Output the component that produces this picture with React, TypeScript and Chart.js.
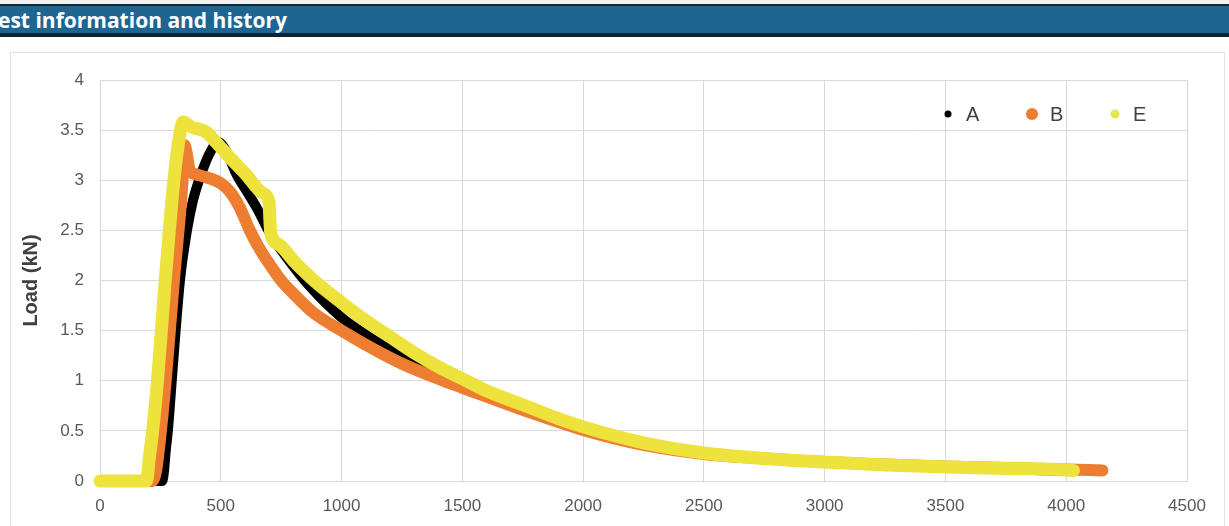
import React, { useEffect, useRef } from "react";
import { Chart, registerables } from "chart.js";

Chart.register(...registerables);

const seriesNames = ["A", "B", "E"];

const aX = [0, 150, 258, 265, 272, 281, 297, 313, 331, 360, 385, 410, 450, 490, 520, 567, 610, 650, 704, 773, 869, 1000, 1100, 1250, 1400, 1500, 1750, 2000, 2250, 2500, 3000, 3500, 4000];
const aY = [0, 0, 0, 0.1, 0.3, 0.5, 1.0, 1.5, 2.0, 2.5, 2.8, 3.0, 3.25, 3.38, 3.3, 3.05, 2.88, 2.72, 2.47, 2.23, 1.94, 1.63, 1.46, 1.24, 1.07, 0.98, 0.75, 0.52, 0.38, 0.28, 0.185, 0.135, 0.1];

const bX = [0, 150, 215, 232, 252, 272, 306, 342, 350, 358, 372, 395, 440, 500, 540, 580, 620, 660, 700, 750, 800, 883, 1000, 1100, 1242, 1400, 1500, 1750, 2000, 2250, 2500, 2750, 3000, 3500, 4000, 4150];
const bY = [0, 0, 0, 0.1, 0.5, 1.0, 2.0, 3.0, 3.35, 3.28, 3.1, 3.06, 3.03, 2.97, 2.88, 2.72, 2.5, 2.32, 2.17, 2.0, 1.87, 1.68, 1.5, 1.36, 1.18, 1.02, 0.93, 0.71, 0.51, 0.36, 0.27, 0.225, 0.19, 0.145, 0.115, 0.105];

const eX = [0, 150, 192, 205, 218, 238, 270, 306, 330, 343, 380, 440, 480, 540, 600, 675, 700, 703, 707, 740, 800, 850, 900, 1000, 1100, 1200, 1300, 1400, 1500, 1600, 1750, 1900, 2000, 2250, 2500, 2750, 3000, 3250, 3500, 3750, 4000, 4030];
const eY = [0, 0, 0, 0.25, 0.5, 1.0, 2.0, 3.0, 3.45, 3.58, 3.53, 3.48, 3.38, 3.22, 3.07, 2.87, 2.78, 2.62, 2.47, 2.36, 2.2, 2.08, 1.97, 1.78, 1.6, 1.44, 1.28, 1.14, 1.02, 0.9, 0.76, 0.62, 0.54, 0.38, 0.28, 0.225, 0.19, 0.16, 0.14, 0.125, 0.11, 0.105];

const xTickLabels = ["0", "500", "1000", "1500", "2000", "2500", "3000", "3500", "4000", "4500"];
const yTickLabels = ["0", "0.5", "1", "1.5", "2", "2.5", "3", "3.5", "4"];

const yAxisTitle = "Load (kN)";
const headerTitle = "est information and history";

const toPoints = (xs: number[], ys: number[]) => xs.map((x, i) => ({ x, y: ys[i] }));

const FONT = "'Liberation Sans', Arial, sans-serif";

const legendPlugin = {
  id: "insideLegend",
  afterDraw(chart: any) {
    const { ctx, chartArea } = chart;
    const spec = [
      { off: 239, r: 3.5, color: "#000000" },
      { off: 155, r: 6, color: "#ED7D31" },
      { off: 72, r: 4.5, color: "#E4E650" },
    ];
    const y = 74;
    ctx.save();
    ctx.font = `20px ${FONT}`;
    ctx.textBaseline = "middle";
    ctx.textAlign = "left";
    chart.data.datasets.forEach((ds: any, i: number) => {
      const s = spec[i];
      const cx = chartArea.right - s.off;
      ctx.beginPath();
      ctx.arc(cx, y, s.r, 0, Math.PI * 2);
      ctx.fillStyle = s.color;
      ctx.fill();
      ctx.fillStyle = "#404040";
      ctx.fillText(ds.label, cx + 18, y + 1);
    });
    ctx.restore();
  },
};

export default function App() {
  const ref = useRef<HTMLCanvasElement | null>(null);

  useEffect(() => {
    if (!ref.current) return;
    const chart = new Chart(ref.current, {
      type: "scatter",
      data: {
        datasets: [
          {
            label: seriesNames[0],
            data: toPoints(aX, aY),
            borderColor: "#000000",
            backgroundColor: "#000000",
            borderWidth: 10,
            order: 3,
          },
          {
            label: seriesNames[1],
            data: toPoints(bX, bY),
            borderColor: "#ED7D31",
            backgroundColor: "#ED7D31",
            borderWidth: 12,
            order: 2,
          },
          {
            label: seriesNames[2],
            data: toPoints(eX, eY),
            borderColor: "#EEE23C",
            backgroundColor: "#EEE23C",
            borderWidth: 13,
            order: 1,
          },
        ].map((d) => ({
          ...d,
          showLine: true,
          clip: false as const,
          pointRadius: 0,
          pointHoverRadius: 0,
          borderCapStyle: "round" as const,
          borderJoinStyle: "round" as const,
          cubicInterpolationMode: "monotone" as const,
        })),
      },
      options: {
        animation: false,
        responsive: false,
        devicePixelRatio: 1,
        layout: { padding: { left: 0, right: 42, top: 40, bottom: 0 } },
        plugins: {
          legend: { display: false },
          tooltip: { enabled: false },
        },
        scales: {
          x: {
            type: "linear",
            min: 0,
            max: 4500,
            ticks: {
              stepSize: 500,
              color: "#595959",
              font: { size: 17, family: FONT },
              padding: 15,
              maxRotation: 0,
              callback: (_v: any, i: number) => xTickLabels[i],
            },
            grid: { color: "#d9d9d9", drawTicks: false, lineWidth: 1 },
            border: { color: "#d9d9d9" },
            afterFit: (s: any) => {
              s.height = 45;
            },
          },
          y: {
            type: "linear",
            min: 0,
            max: 4,
            ticks: {
              stepSize: 0.5,
              color: "#595959",
              font: { size: 17, family: FONT },
              padding: 16,
              callback: (_v: any, i: number) => yTickLabels[i],
            },
            grid: { color: "#d9d9d9", drawTicks: false, lineWidth: 1 },
            border: { color: "#d9d9d9" },
            title: {
              display: true,
              text: yAxisTitle,
              color: "#404040",
              font: { size: 20, family: FONT, weight: "bold" },
              padding: { top: 19, bottom: 0 },
            },
            afterFit: (s: any) => {
              s.width = 100;
            },
          },
        },
      },
      plugins: [legendPlugin],
    });
    return () => chart.destroy();
  }, []);

  return (
    <div
      style={{
        position: "fixed",
        left: 0,
        top: 0,
        width: 1229,
        height: 526,
        overflow: "hidden",
        background: "#ffffff",
      }}
    >
      <div style={{ position: "absolute", left: 0, top: 0, width: 1229, height: 4, background: "#f1f1f1" }} />
      <div
        style={{
          position: "absolute",
          left: 0,
          top: 4,
          width: 1229,
          height: 27,
          background: "#1E6591",
          borderTop: "2px solid #10293b",
          borderBottom: "4px solid #0d2334",
          color: "#ffffff",
          fontFamily: "'Open Sans', Arial, sans-serif",
          fontWeight: 700,
          fontSize: 21,
          lineHeight: "28px",
          paddingLeft: 0,
          whiteSpace: "nowrap",
          boxSizing: "content-box",
        }}
      >
        <span style={{ position: "relative", left: -2 }}>{headerTitle}</span>
      </div>
      <div
        style={{
          position: "absolute",
          left: 10,
          top: 52,
          width: 1215,
          height: 520,
          border: "1px solid #e2e2e2",
          boxSizing: "border-box",
        }}
      />
      <canvas
        ref={ref}
        width={1229}
        height={486}
        style={{ position: "absolute", left: 0, top: 40, width: 1229, height: 486 }}
      />
    </div>
  );
}
